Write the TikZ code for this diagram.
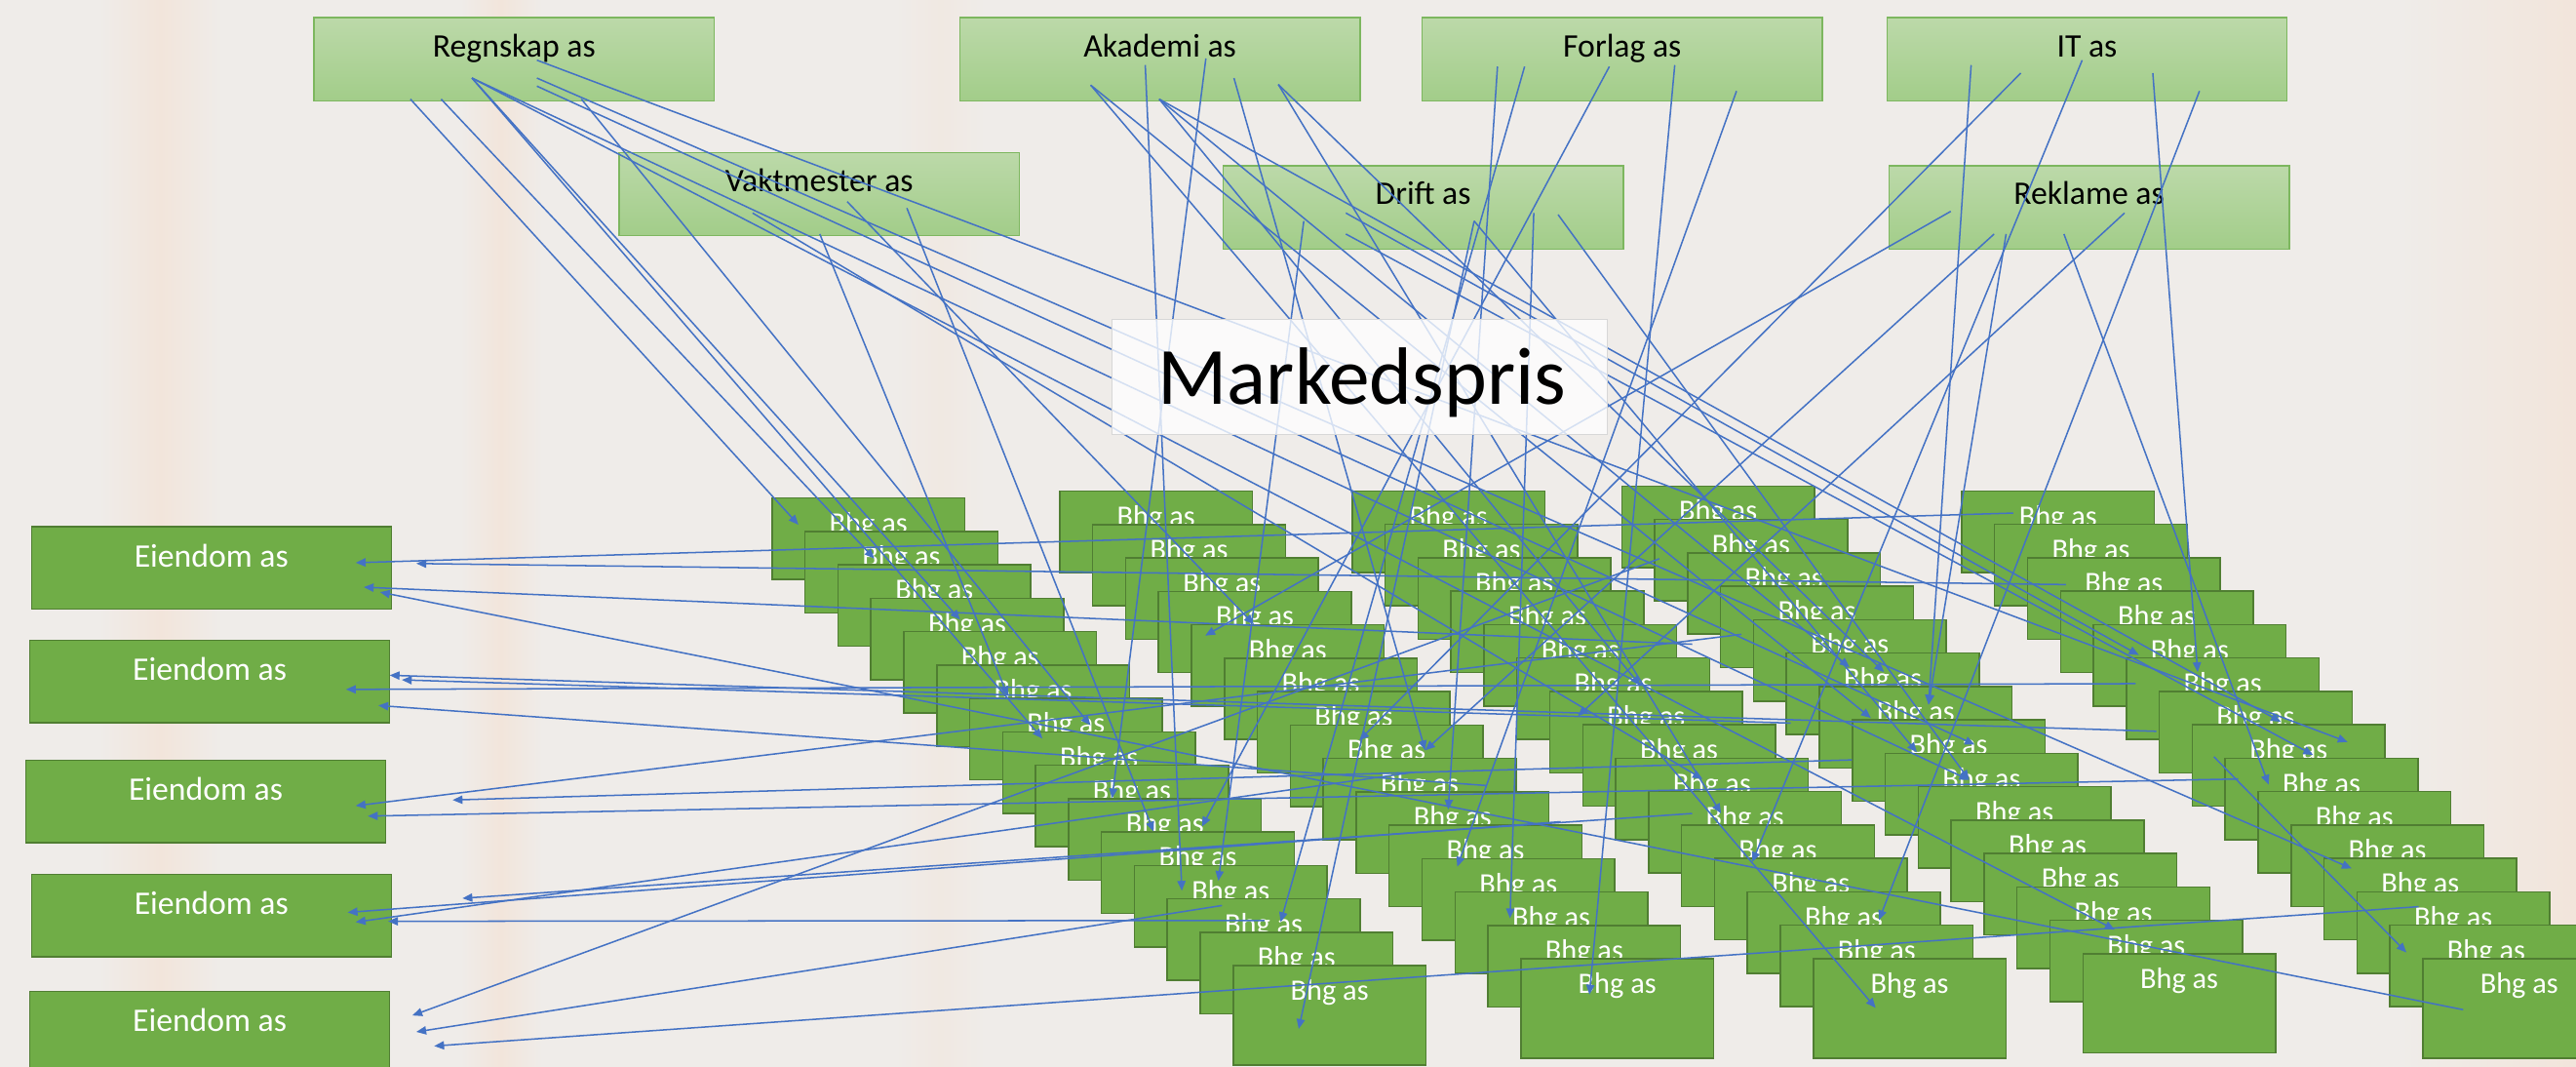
\documentclass[tikz,border=0pt]{standalone}
\usepackage{fontspec}
\setmainfont{Carlito}
\usetikzlibrary{arrows.meta}
\definecolor{bg}{RGB}{239,236,233}
\definecolor{peach}{RGB}{242,229,219}
\definecolor{topA}{RGB}{188,217,169}
\definecolor{topB}{RGB}{162,205,137}
\definecolor{topE}{RGB}{125,183,95}
\definecolor{gfill}{RGB}{112,173,71}
\definecolor{gedge}{RGB}{80,126,50}
\definecolor{lblue}{RGB}{68,114,196}
\definecolor{mboxe}{RGB}{215,215,215}
\begin{document}
\begin{tikzpicture}[x=1pt,y=-1pt,
 topbox/.style={draw=topE, line width=0.9pt, top color=topA, bottom color=topB, minimum width=243.6pt, minimum height=50.6pt, anchor=north west, inner sep=0pt},
 toptext/.style={font=\fontsize{20}{24}\selectfont, text=black, anchor=base, inner sep=0pt},
 ebox/.style={draw=gedge, line width=0.9pt, fill=gfill, minimum width=219pt, minimum height=50pt, anchor=north west, inner sep=0pt},
 etext/.style={font=\fontsize{20}{24}\selectfont, text=white, anchor=base, inner sep=0pt},
 bbox/.style={draw=gedge, line width=0.9pt, fill=gfill, minimum width=117.3pt, anchor=north west, inner sep=0pt},
 btext/.style={font=\fontsize{18}{22}\selectfont, text=white, anchor=base, inner sep=0pt},
 conn/.style={draw=lblue, line width=0.9pt, -{Triangle[length=6pt,width=5pt]}}
]
\useasboundingbox (0,0) rectangle (1568,649);
\clip (0,0) rectangle (1568,649);
% background
\fill[bg] (0,0) rectangle (1568,649);
\shade[left color=bg, right color=bg, middle color=peach] (60,0) rectangle (135,649);
\shade[left color=bg, right color=bg, middle color=peach] (280,0) rectangle (330,649);
\shade[left color=bg, right color=bg, middle color=peach!50!bg] (545,0) rectangle (600,649);
\shade[left color=bg, right color=peach] (1460,0) rectangle (1568,649);

% top boxes
\node[topbox] (reg) at (190.7,10.3) {};
\node[toptext] (regt) at ([yshift=-24.3pt]reg.north) {Regnskap as};
\node[topbox] (aka) at (583.8,10.3) {};
\node[toptext] (akat) at ([yshift=-24.3pt]aka.north) {Akademi as};
\node[topbox] (for) at (865.2,10.3) {};
\node[toptext] (fort) at ([yshift=-24.3pt]for.north) {Forlag as};
\node[topbox] (it) at (1148.1,10.3) {};
\node[toptext] (itt) at ([yshift=-24.3pt]it.north) {IT as};
\node[topbox] (vak) at (376.4,92.4) {};
\node[toptext] (vakt) at ([yshift=-24.1pt]vak.north) {Vaktmester as};
\node[topbox] (dri) at (744,100.5) {};
\node[toptext] (drit) at ([yshift=-24.1pt]dri.north) {Drift as};
\node[topbox] (rek) at (1149.3,100.5) {};
\node[toptext] (rekt) at ([yshift=-24.1pt]rek.north) {Reklame as};

% Bhg stacks
\foreach \s/\x/\y in {1/469.5/302.6, 2/644.6/298.4, 3/822.6/298.3, 4/986.7/295.3, 5/1193.6/298.3} {
  \foreach \i in {0,...,13} {
    \node[bbox, minimum height=49.5pt] (b\s-\i) at (\x+\i*20.05, \y+\i*20.33) {};
    \node[btext] (t\s-\i) at ([yshift=-21.6pt]b\s-\i.north) {Bhg as};
  }
  \node[bbox, minimum height=60.4pt] (b\s-14) at (\x+14*20.05, \y+14*20.33) {};
  \node[btext] (t\s-14) at ([yshift=-21.6pt]b\s-14.north) {Bhg as};
}

% Eiendom boxes
\foreach \k/\x/\y in {1/18.7/320.1, 2/17.7/389.3, 3/15.3/462.2, 4/18.7/531.6, 5/17.7/602.8} {
  \node[ebox] (e\k) at (\x,\y) {};
  \node[etext] (et\k) at ([yshift=-24.8pt]e\k.north) {Eiendom as};
}

% connector end points
\foreach \n/\x/\y in {Ra/249.8/60.3, Rb/268.5/60.3, Rc/287.3/47.5, Rd/326.8/47.5, Re/326.8/36.6, Rf/326.8/52.4, Rg/353.9/60.3,
  Va/458.1/129.6, Vb/499/142.4, Vc/515.7/122.7, Vd/552/126.6,
  Ka/663.9/51.8, Kb/697.1/39.6, Kc/705.6/60.3, Kd/734/35.6, Ke/751.1/47.5, Kf/778.1/51.4,
  Fa/911.5/40.5, Fb/928/40.5, Fc/979.6/40.5, Fd/1019.4/39.6, Fe/1057/55.4,
  Da/793.6/134.5, Db/819.2/129.6, Dc/819.2/142.4, Dd/897.3/134.5, De/933.6/129.6, Df/948.4/130.6,
  Ia/1199.8/39.6, Ib/1230/44.5, Ic/1267.4/36.6, Id/1310.4/44.5, Ie/1338.8/55.4,
  Xa/1187.4/128.6, Xb/1213.8/142.4, Xc/1221.1/142.4, Xd/1256.3/142.4, Xe/1293.2/129.6,
  A1/486/319.3, A2/532.2/339.9, A3/584.4/377.1, A4/613.5/423.6, A5/663.8/441.4, A6/634.5/449.4, A7/676.9/485.8,
  A8/702.2/506, A9/731.6/503, A10/719.4/542, A11/741.6/536, A12/733.6/386.8, A13/763.2/379.9, A14/779.5/561.1,
  A15/790.5/626.1, A16/827.4/450.5, A17/867.5/456.6, A18/881.5/492.6, A19/887/527.4, A20/919.1/558.8,
  A21/967.5/605.2, A22/960.5/435.7, A23/998.5/417.2, A24/1036.3/474, A25/1047.6/495, A26/1066.6/524.5,
  A27/1125.8/406, A28/1146.8/409, A29/1173.9/428.8, A30/1138.8/436.9, A31/1166.8/457.8, A32/1202/453.1,
  A33/1198.6/474.6, A34/1143.7/559.9, A35/1141.7/613.3, A36/1287.2/565.7, A37/1301.9/398.6, A38/1337.7/409,
  A39/1388.3/439.2, A40/1429/451.5, A41/1408/459.4, A42/1380.9/477.5, A43/1431.5/528.5, A44/1464.8/579.6,
  Ea1/216.5/342.4, Ea2/253.4/342.9, Ea3/221.4/357.3, Ea4/231.3/360.3, Eb1/237.2/410.9, Eb2/244.6/413.7,
  Eb3/210.6/419.5, Eb4/230.3/429.3, Ec1/216.5/490.3, Ec2/275.5/486.8, Ec3/223.9/496.6, Ed1/281.5/546.6,
  Ed2/211.6/555.2, Ed3/216.5/561.1, Ed4/236.2/560.6, Ee1/251/617.9, Ee2/253.4/627.9, Ee3/264.3/636.5,
  B1/1225.4/312.2, B2/1257.5/355.7, B3/1030/392, B4/1499.3/614.4, B5/1312.6/445, B6/1090/440, B7/1300/416,
  B8/905/478, B9/1060/386, B10/1127.2/462.4, B11/1362.4/474, B12/1030/495, B13/950/500, B14/860/470,
  B15/769.6/560.1, B16/1010/340, B17/743.8/551, B18/1472.2/551.7, B19/1347.6/460.5}
  \coordinate (\n) at (\x,\y);

% connectors
\foreach \a/\b in {Ra/A1, Rb/A2, Rc/A3, Rc/A6, Rc/A36, Rc/A33, Rd/A43, Re/A40, Rf/A32, Rg/A5,
  Va/A24, Vb/A4, Vc/A13, Vd/A8,
  Ka/A30, Ka/A35, Kb/A10, Kc/A23, Kc/A39, Kc/A27, Kd/A7, Ke/A17, Kf/A28, Kf/A25,
  Fa/A18, Fb/A14, Fc/A9, Fd/A21, Fe/A19,
  Da/A11, Db/A37, Dc/A41, Dd/A31, Dd/A15, De/A20, Df/A33,
  Ia/A29, Ib/A16, Ic/A26, Id/A38, Ie/A34,
  Xa/A12, Xb/A17, Xc/A29, Xd/A42, Xe/A22,
  B1/Ea1, B2/Ea2, B3/Ea3, B4/Ea4, B5/Eb1, B6/Eb2, B7/Eb3, B8/Eb4, B9/Ec1, B10/Ec2, B11/Ec3,
  B12/Ed1, B13/Ed2, B14/Ed3, B15/Ed4, B16/Ee1, B17/Ee2, B18/Ee3, B19/A44}
  \draw[conn] (\a) -- (\b);

% Markedspris
\node[draw=mboxe, line width=0.6pt, fill=white, fill opacity=0.78, minimum width=301.5pt, minimum height=70.2pt, anchor=north west, inner sep=0pt] (mp) at (676.7,193.9) {};
\node[font=\fontsize{49.5}{56}\selectfont, text=black, anchor=base, inner sep=0pt] (mpt) at ([xshift=1.2pt,yshift=-51.8pt]mp.north) {Markedspris};
\end{tikzpicture}
\end{document}
